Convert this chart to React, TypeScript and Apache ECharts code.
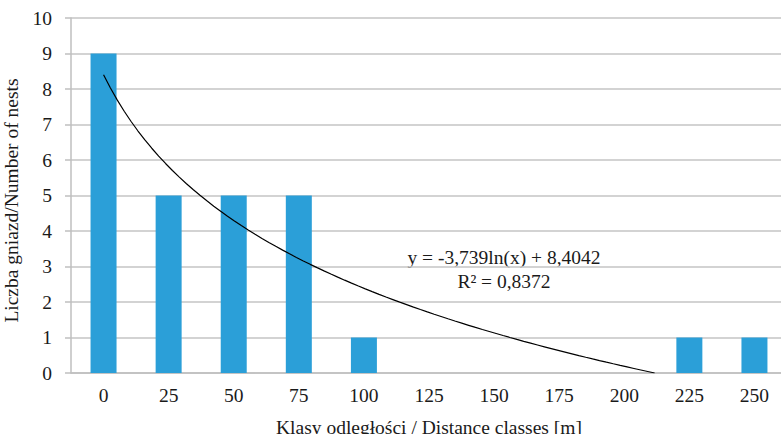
import React, { useEffect, useRef } from "react";
import * as echarts from "echarts";

const categories = ["0", "25", "50", "75", "100", "125", "150", "175", "200", "225", "250"];
const nestCounts = [9, 5, 5, 5, 1, 0, 0, 0, 0, 1, 1];
const yTicks = [0, 1, 2, 3, 4, 5, 6, 7, 8, 9, 10];
// logarithmic trendline as printed on the chart: y = a*ln(x) + b
const trendA = -3.739;
const trendB = 8.4042;
const equationLines = ["y = -3,739ln(x) + 8,4042", "R² = 0,8372"];

const FONT = "Liberation Serif";
const FS = 19.5;
const TXT = "#1a1a1a";

export default function App() {
  const ref = useRef<HTMLDivElement>(null);
  useEffect(() => {
    if (!ref.current) return;
    const chart = echarts.init(ref.current, undefined, { renderer: "svg" });
    // trendline points: from x=1 (first category) until the curve reaches 0
    const xEnd = Math.exp(trendB / -trendA);
    const trend: number[][] = [];
    const steps = 80;
    for (let i = 0; i <= steps; i++) {
      const x = 1 + ((xEnd - 1) * i) / steps;
      trend.push([x, trendA * Math.log(x) + trendB]);
    }
    chart.setOption({
      animation: false,
      grid: {
        left: 71,
        right: -6,
        top: 18,
        bottom: 61,
        containLabel: false,
        outerBoundsMode: "none",
      },
      xAxis: [
        {
          type: "category",
          data: categories,
          name: "Klasy odległości / Distance classes [m]",
          nameLocation: "middle",
          nameGap: 44,
          nameTextStyle: { fontFamily: FONT, fontSize: FS, color: TXT },
          axisLine: { lineStyle: { color: "#bfbfbf", width: 1.5 } },
          axisTick: { show: false },
          axisLabel: { fontFamily: FONT, fontSize: FS, color: TXT, margin: 12 },
        },
        {
          type: "value",
          min: 0.5,
          max: 11.5,
          show: false,
        },
      ],
      yAxis: {
        type: "value",
        min: yTicks[0],
        max: yTicks[yTicks.length - 1],
        interval: 1,
        name: "Liczba gniazd/Number of nests",
        nameLocation: "middle",
        nameGap: 47,
        nameTextStyle: { fontFamily: FONT, fontSize: FS, color: TXT, padding: [0, 0, 0, -10] },
        axisLine: { show: true, lineStyle: { color: "#bfbfbf", width: 1.5 } },
        axisTick: { show: true, length: 6, lineStyle: { color: "#bfbfbf", width: 1.5 } },
        axisLabel: { fontFamily: FONT, fontSize: FS, color: TXT, margin: 19 },
        splitLine: { lineStyle: { color: "#c4c4c4", width: 1.5 } },
      },
      series: [
        {
          type: "bar",
          data: nestCounts,
          barWidth: 26,
          itemStyle: { color: "#2b9fd8" },
        },
        {
          type: "line",
          xAxisIndex: 1,
          data: trend,
          showSymbol: false,
          symbol: "none",
          lineStyle: { color: "#000", width: 1.2 },
          z: 5,
        },
      ],
      graphic: [
        {
          type: "text",
          x: 504,
          y: 257,
          style: {
            text: equationLines[0],
            fontFamily: FONT,
            fontSize: FS,
            fill: TXT,
            align: "center",
            verticalAlign: "middle",
          },
        },
        {
          type: "text",
          x: 504,
          y: 281,
          style: {
            text: equationLines[1],
            fontFamily: FONT,
            fontSize: FS,
            fill: TXT,
            align: "center",
            verticalAlign: "middle",
          },
        },
      ],
    });
    return () => chart.dispose();
  }, []);
  return (
    <div
      ref={ref}
      style={{ position: "absolute", left: 0, top: 0, width: 781, height: 434, overflow: "hidden" }}
    />
  );
}
